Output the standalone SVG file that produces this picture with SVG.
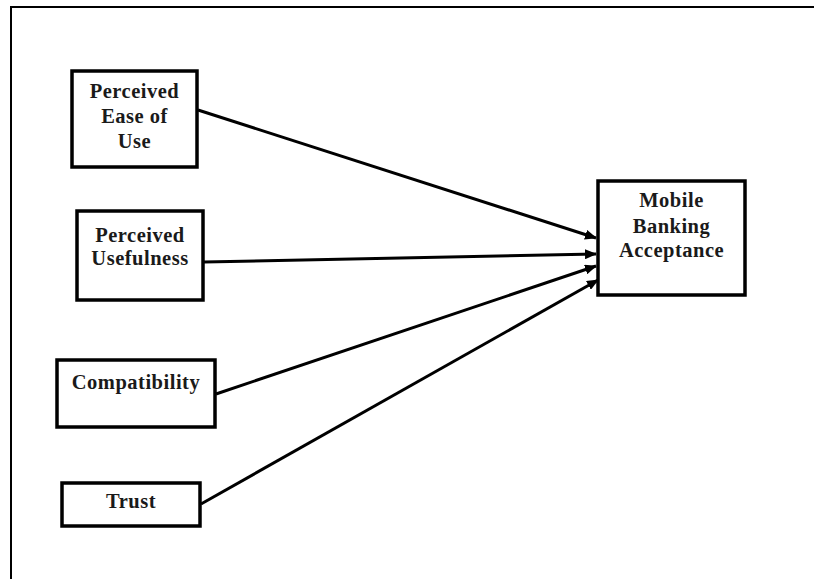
<svg xmlns="http://www.w3.org/2000/svg" width="814" height="579" viewBox="0 0 814 579">
<style>
.box{fill:#fff;stroke:#000;stroke-width:3.5}
.t{font-family:"Liberation Serif","Times New Roman",serif;font-weight:bold;font-size:20.5px;letter-spacing:0.5px;fill:#1a1a1a;text-anchor:middle}
.c{stroke:#000;stroke-width:3;fill:none}
</style>
<defs>
<marker id="ah" viewBox="0 0 12 10" refX="11" refY="5" markerWidth="12" markerHeight="10" markerUnits="userSpaceOnUse" orient="auto">
<path d="M0,0 L12,5 L0,10 Z" fill="#000"/>
</marker>
</defs>
<rect x="0" y="0" width="814" height="579" fill="#fff"/>
<path d="M11,579 L11,7 L814,7" fill="none" stroke="#000" stroke-width="2"/>
<g id="connectors">
<line class="c" x1="198" y1="110" x2="596" y2="238" marker-end="url(#ah)"/>
<line class="c" x1="204" y1="262" x2="596" y2="254" marker-end="url(#ah)"/>
<line class="c" x1="216" y1="394" x2="596" y2="266" marker-end="url(#ah)"/>
<line class="c" x1="201" y1="504" x2="598" y2="280" marker-end="url(#ah)"/>
</g>
<g id="peou">
<rect class="box" x="72" y="71" width="125" height="96"/>
<text class="t" x="134.5" y="98">Perceived</text>
<text class="t" x="134.5" y="123">Ease of</text>
<text class="t" x="134.5" y="148">Use</text>
</g>
<g id="pu">
<rect class="box" x="77" y="211" width="126" height="89"/>
<text class="t" x="140" y="242">Perceived</text>
<text class="t" x="140" y="265">Usefulness</text>
</g>
<g id="compat">
<rect class="box" x="57" y="360" width="158" height="67"/>
<text class="t" x="136" y="389">Compatibility</text>
</g>
<g id="trust">
<rect class="box" x="62" y="483" width="138" height="43"/>
<text class="t" x="131" y="508">Trust</text>
</g>
<g id="mba">
<rect class="box" x="598" y="181" width="147" height="114"/>
<text class="t" x="671.5" y="207">Mobile</text>
<text class="t" x="671.5" y="233">Banking</text>
<text class="t" x="671.5" y="257">Acceptance</text>
</g>
</svg>
